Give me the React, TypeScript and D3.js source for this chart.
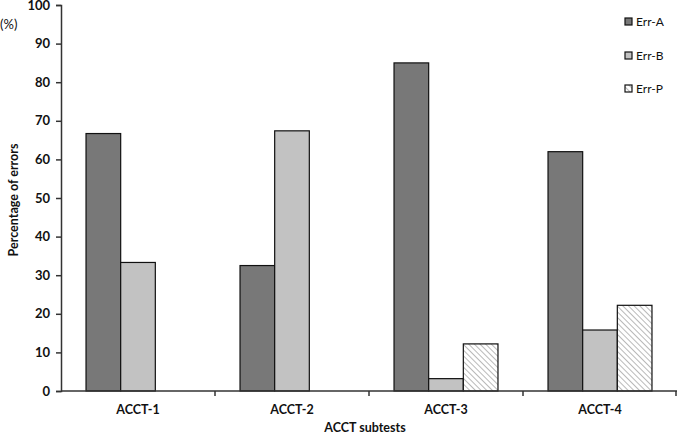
import * as d3 from 'd3'
import { useEffect, useRef } from 'react'

const categories = ['ACCT-1', 'ACCT-2', 'ACCT-3', 'ACCT-4']
const seriesNames = ['Err-A', 'Err-B', 'Err-P']
const errA = [66.7, 32.5, 85, 62]
const errB = [33.3, 67.4, 3.2, 15.8]
const errP = [null, null, 12.2, 22.2]
const yTicks = [0, 10, 20, 30, 40, 50, 60, 70, 80, 90, 100]

const FONT = 'Lato, "Liberation Sans", sans-serif'

export default function App() {
  const svgRef = useRef<SVGSVGElement>(null)

  useEffect(() => {
    if (!svgRef.current) return
    const svg = d3.select(svgRef.current)
    svg.selectAll('*').remove()

    const W = 677
    const H = 435
    const margin = { top: 5, right: 0, bottom: 44, left: 61 }
    const innerW = W - margin.left - margin.right
    const innerH = H - margin.top - margin.bottom

    const defs = svg.append('defs')
    const pat = defs
      .append('pattern')
      .attr('id', 'hatch')
      .attr('patternUnits', 'userSpaceOnUse')
      .attr('width', 4)
      .attr('height', 4)
      .attr('patternTransform', 'rotate(-45)')
    pat.append('rect').attr('width', 4).attr('height', 4).attr('fill', '#fff')
    pat.append('line').attr('x1', 0).attr('y1', 0).attr('x2', 0).attr('y2', 4).attr('stroke', '#8a8a8a').attr('stroke-width', 1.2)

    const fills = ['#787878', '#c2c2c2', 'url(#hatch)']
    const values = [errA, errB, errP]

    const x0 = d3.scaleBand().domain(categories).range([0, innerW]).paddingInner(0).paddingOuter(0)
    const x1 = d3.scaleBand().domain(seriesNames).range([0, x0.bandwidth() * 0.675]).padding(0)
    const groupOff = (x0.bandwidth() * (1 - 0.675)) / 2
    const y = d3.scaleLinear().domain([0, 100]).range([innerH, 0])

    const g = svg.append('g').attr('transform', `translate(${margin.left},${margin.top})`)

    categories.forEach((c, i) => {
      seriesNames.forEach((s, k) => {
        const v = values[k][i]
        if (v == null) return
        g.append('rect')
          .attr('x', (x0(c) ?? 0) + groupOff + (x1(s) ?? 0))
          .attr('y', y(v))
          .attr('width', x1.bandwidth())
          .attr('height', innerH - y(v))
          .attr('fill', fills[k])
          .attr('stroke', '#111')
          .attr('stroke-width', 1.2)
      })
    })

    // y axis
    const yAxis = d3.axisLeft(y).tickValues(yTicks).tickSize(5).tickPadding(6)
    g.append('g')
      .call(yAxis)
      .call((s) => s.select('.domain').attr('stroke', '#333').attr('stroke-width', 1.5))
      .call((s) => s.selectAll('.tick line').attr('stroke', '#333').attr('stroke-width', 1.5))
      .call((s) =>
        s.selectAll('text').attr('fill', '#111').attr('font-size', 13).attr('font-weight', 'bold').attr('font-family', FONT)
      )

    // x axis
    g.append('line')
      .attr('x1', 0)
      .attr('x2', innerW)
      .attr('y1', innerH)
      .attr('y2', innerH)
      .attr('stroke', '#333')
      .attr('stroke-width', 1.5)
    categories.forEach((c, i) => {
      if (i === 0) return
      g.append('line')
        .attr('x1', x0(c) ?? 0)
        .attr('x2', x0(c) ?? 0)
        .attr('y1', innerH)
        .attr('y2', innerH + 5)
        .attr('stroke', '#333')
        .attr('stroke-width', 1.5)
    })
    g.append('line')
      .attr('x1', innerW - 1)
      .attr('x2', innerW - 1)
      .attr('y1', innerH)
      .attr('y2', innerH + 5)
      .attr('stroke', '#333')
      .attr('stroke-width', 1.5)

    categories.forEach((c) => {
      g.append('text')
        .attr('x', (x0(c) ?? 0) + x0.bandwidth() / 2)
        .attr('y', innerH + 23)
        .attr('text-anchor', 'middle')
        .attr('font-size', 12.5)
        .attr('font-weight', 'bold')
        .attr('font-family', FONT)
        .attr('fill', '#111')
        .text(c)
    })

    svg.append('text')
      .attr('x', 365)
      .attr('y', 432)
      .attr('text-anchor', 'middle')
      .attr('font-size', 12.5)
      .attr('font-weight', 'bold')
      .attr('font-family', FONT)
      .attr('fill', '#111')
      .text('ACCT subtests')

    svg.append('text')
      .attr('transform', 'rotate(-90)')
      .attr('x', -200)
      .attr('y', 18)
      .attr('text-anchor', 'middle')
      .attr('font-size', 12.5)
      .attr('font-weight', 'bold')
      .attr('font-family', FONT)
      .attr('fill', '#111')
      .text('Percentage of errors')

    svg.append('text')
      .attr('x', 0)
      .attr('y', 29)
      .attr('font-size', 13)
      .attr('font-family', FONT)
      .attr('fill', '#111')
      .text('(%)')

    // legend
    const legY = [22, 56, 89]
    seriesNames.forEach((s, k) => {
      svg.append('rect')
        .attr('x', 625)
        .attr('y', legY[k] - 4)
        .attr('width', 7)
        .attr('height', 7)
        .attr('fill', fills[k])
        .attr('stroke', '#111')
        .attr('stroke-width', 1.2)
      svg.append('text')
        .attr('x', 636)
        .attr('y', legY[k] + 4)
        .attr('font-size', 12)
        .attr('font-family', FONT)
        .attr('fill', '#111')
        .text(s)
    })
  }, [])

  return (
    <svg
      ref={svgRef}
      width={677}
      height={435}
      style={{ position: 'absolute', left: 0, top: 0, background: '#fff' }}
    />
  )
}
